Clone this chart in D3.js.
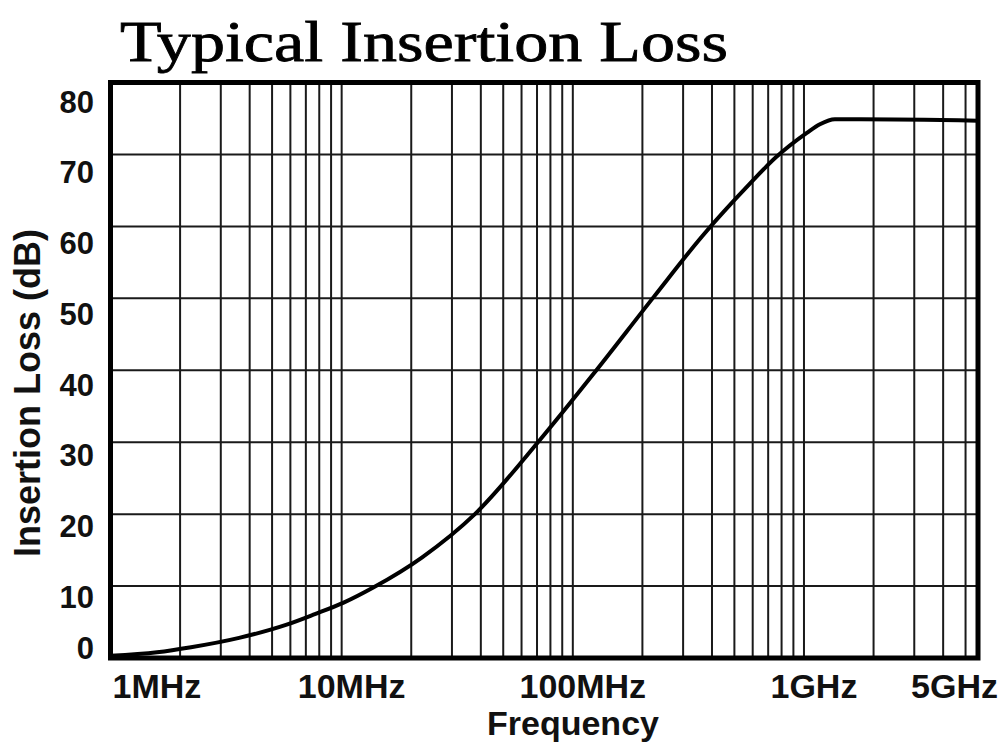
<!DOCTYPE html>
<html>
<head>
<meta charset="utf-8">
<script src="https://cdn.jsdelivr.net/npm/d3@7"></script>
<style>
  body { margin: 0; background: #fff; }
  svg { display: block; }
</style>
</head>
<body>
<div id="chart"></div>
<script>
// curve (MHz, dB)
const freqMHz = [1, 1.59, 2.23, 3.6, 5.74, 7.66, 10.2, 13.7, 22.3, 37.7,
                 72, 125, 224, 362, 578, 756, 1029, 1172, 1360, 1745, 5660];
const lossDb = [0.3, 0.8, 1.5, 2.8, 4.6, 6.1, 7.7, 9.8, 14.0, 20,
                30.3, 39.8, 50.2, 58.6, 65.8, 69.6, 73.0, 74.2, 74.9, 74.9, 74.7];

const xTickMHz = [1, 10, 100, 1000, 5000];
const xTickLabels = ["1MHz", "10MHz", "100MHz", "1GHz", "5GHz"];
const yTicks = [0, 10, 20, 30, 40, 50, 60, 70, 80];

const W = 1006, H = 744;
const plot = {left: 110.5, right: 978, top: 82.5, bottom: 658};

const svg = d3.select("#chart").append("svg")
    .attr("width", W)
    .attr("height", H);

const x = d3.scaleLog()
    .domain([1, 5660])
    .range([plot.left, plot.right]);

const y = d3.scaleLinear()
    .domain([0, 80])
    .range([plot.bottom, plot.top]);

// vertical grid: 1..9 in each decade
const gridF = [];
[1, 10, 100, 1000].forEach(dec => {
    for (let k = 1; k <= 9; k++) {
        const f = dec * k;
        if (f > 1 && f < 5660) gridF.push(f);
    }
});

svg.append("g")
    .selectAll("line")
    .data(gridF)
    .join("line")
    .attr("x1", d => x(d)).attr("x2", d => x(d))
    .attr("y1", plot.top).attr("y2", plot.bottom)
    .attr("stroke", "#1a1a1a")
    .attr("stroke-width", 2);

svg.append("g")
    .selectAll("line")
    .data(yTicks.filter(d => d > 0 && d < 80))
    .join("line")
    .attr("x1", plot.left).attr("x2", plot.right)
    .attr("y1", d => y(d)).attr("y2", d => y(d))
    .attr("stroke", "#1a1a1a")
    .attr("stroke-width", 2);

// curve
const pts = freqMHz.map((f, i) => ({f: f, v: lossDb[i]}));
svg.append("path")
    .datum(pts)
    .attr("fill", "none")
    .attr("stroke", "#000")
    .attr("stroke-width", 4)
    .attr("stroke-linejoin", "round")
    .attr("d", d3.line()
        .x(d => x(d.f))
        .y(d => y(d.v))
        .curve(d3.curveMonotoneX));

// frame
svg.append("rect")
    .attr("x", plot.left).attr("y", plot.top)
    .attr("width", plot.right - plot.left)
    .attr("height", plot.bottom - plot.top)
    .attr("fill", "none")
    .attr("stroke", "#000")
    .attr("stroke-width", 5);

// y tick labels (sit a little below their lines, 0 sits above)
svg.append("g")
    .selectAll("text")
    .data(yTicks)
    .join("text")
    .attr("x", 94)
    .attr("y", d => y(d) + (d === 0 ? -10 : 10 + d * 0.12))
    .attr("dominant-baseline", "central")
    .attr("text-anchor", "end")
    .style("font-family", "'Liberation Sans', Arial, sans-serif")
    .style("font-weight", "bold")
    .style("font-size", "31px")
    .attr("fill", "#111")
    .text(d => d);

// x tick labels
svg.append("g")
    .selectAll("text")
    .data(xTickMHz)
    .join("text")
    .attr("x", (d, i) => i === 0 ? x(d) + 2 : (i === xTickMHz.length - 1 ? 998 : x(d) + 10))
    .attr("y", 698)
    .attr("text-anchor", (d, i) => i === 0 ? "start" : (i === xTickMHz.length - 1 ? "end" : "middle"))
    .style("font-family", "'Liberation Sans', Arial, sans-serif")
    .style("font-weight", "bold")
    .style("font-size", "34px")
    .attr("fill", "#111")
    .text((d, i) => xTickLabels[i]);

// axis titles
svg.append("text")
    .attr("x", 573)
    .attr("y", 735)
    .attr("text-anchor", "middle")
    .style("font-family", "'Liberation Sans', Arial, sans-serif")
    .style("font-weight", "bold")
    .style("font-size", "34px")
    .attr("fill", "#111")
    .text("Frequency");

svg.append("text")
    .attr("transform", "translate(40,393) rotate(-90)")
    .attr("text-anchor", "middle")
    .style("font-family", "'Liberation Sans', Arial, sans-serif")
    .style("font-weight", "bold")
    .style("font-size", "36px")
    .attr("fill", "#111")
    .text("Insertion Loss (dB)");

// title
svg.append("text")
    .attr("x", 120)
    .attr("y", 61)
    .attr("textLength", 608)
    .attr("lengthAdjust", "spacingAndGlyphs")
    .style("font-family", "'Liberation Serif', 'DejaVu Serif', serif")
    .style("font-size", "58px")
    .attr("fill", "#000")
    .attr("stroke", "#000")
    .attr("stroke-width", 0.8)
    .text("Typical Insertion Loss");
</script>
</body>
</html>
